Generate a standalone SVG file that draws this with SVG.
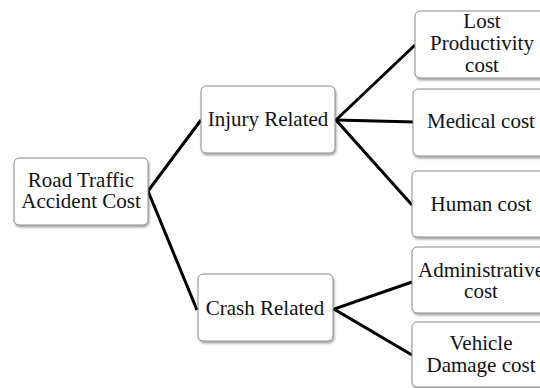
<svg xmlns="http://www.w3.org/2000/svg" width="540" height="388" viewBox="0 0 540 388">
<defs>
<filter id="sh" x="-10%" y="-10%" width="120%" height="130%">
<feDropShadow dx="1" dy="2" stdDeviation="1.2" flood-color="#000" flood-opacity="0.35"/>
</filter>
</defs>
<style>
.box{fill:#fff;stroke:#8a8a8a;stroke-width:1;filter:url(#sh)}
.t{font-family:"Liberation Serif","Times New Roman",serif;font-size:21px;fill:#111;text-anchor:middle}
.c{stroke:#000;stroke-width:3;fill:none;stroke-linejoin:miter}
</style>
<rect width="540" height="388" fill="#fff"/>
<g id="connectors">
<polyline class="c" points="201,120 148,191 197,310"/>
<polyline class="c" points="415,45 336,120 412,205"/>
<line class="c" x1="336" y1="120" x2="415" y2="122"/>
<polyline class="c" points="412,282 334,309 412,355"/>
</g>
<g id="root">
<rect class="box" x="14" y="158" width="134" height="67" rx="5"/>
<text class="t" x="81" y="187">Road Traffic</text>
<text class="t" x="81" y="208">Accident Cost</text>
</g>
<g id="injury">
<rect class="box" x="201" y="86" width="134" height="67" rx="5"/>
<text class="t" x="268" y="126">Injury Related</text>
</g>
<g id="crash">
<rect class="box" x="198" y="274" width="135" height="67" rx="5"/>
<text class="t" x="265" y="315">Crash Related</text>
</g>
<g id="lost">
<rect class="box" x="415" y="11" width="136" height="67" rx="5"/>
<text class="t" x="482" y="28">Lost</text>
<text class="t" x="482" y="50">Productivity</text>
<text class="t" x="482" y="72">cost</text>
</g>
<g id="medical">
<rect class="box" x="413" y="89" width="138" height="67" rx="5"/>
<text class="t" x="481" y="128">Medical cost</text>
</g>
<g id="human">
<rect class="box" x="412" y="171" width="139" height="66" rx="5"/>
<text class="t" x="481" y="211">Human cost</text>
</g>
<g id="admin">
<rect class="box" x="412" y="247" width="139" height="66" rx="5"/>
<text class="t" x="481" y="277">Administrative</text>
<text class="t" x="481" y="298">cost</text>
</g>
<g id="vehicle">
<rect class="box" x="412" y="322" width="139" height="65" rx="5"/>
<text class="t" x="481" y="350">Vehicle</text>
<text class="t" x="481" y="372">Damage cost</text>
</g>
</svg>
